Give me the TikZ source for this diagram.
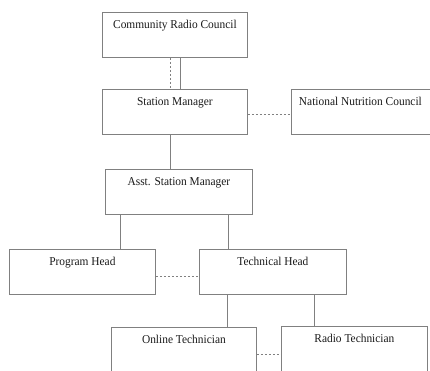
\documentclass[tikz,border=0pt]{standalone}
\usepackage{fontspec}
\setmainfont[FakeStretch=0.95]{Liberation Serif}
\usepackage{tikz}
\usetikzlibrary{positioning}

\tikzset{
  unit/.style={draw=black!50, line width=0.8pt, text=black!90, anchor=north west, inner xsep=0pt, inner ysep=7.5pt, text height=9pt, text depth=21pt, font=\fontsize{12}{14}\selectfont},
  link/.style={draw=black!50, line width=0.8pt},
  tie/.style={link, dash pattern=on 2.5pt off 1.5pt}
}

\begin{document}
\begin{tikzpicture}[x=1pt,y=-1pt]
\useasboundingbox (0,0) rectangle (430,370);
\clip (0,0) rectangle (430,370);
\node [unit, minimum width=145pt] (crc) at (102,12) {Community Radio Council};
\node [unit, minimum width=145pt] (sm) at (102,89) {Station Manager};
\node [unit, minimum width=150pt] (nnc) at (291,89) {\hspace{-12pt}National Nutrition Council};
\node [unit, minimum width=147pt] (asm) at (105,169) {Asst. Station Manager};
\node [unit, minimum width=146pt] (ph) at (9,249) {Program Head};
\node [unit, minimum width=147pt] (th) at (199,249) {Technical Head};
\node [unit, minimum width=145pt] (ot) at (111,327) {Online Technician};
\node [unit, minimum width=146pt] (rt) at (281,326) {Radio Technician};
\draw [tie] ([xshift=-4.5pt]crc.south) -- ([xshift=-4.5pt]crc.south |- sm.north);
\draw [link] ([xshift=5.5pt]crc.south) -- ([xshift=5.5pt]crc.south |- sm.north);
\draw [tie] ([yshift=-2.5pt]sm.east) -- ([yshift=-2.5pt]sm.east -| nnc.west);
\draw [link] ([xshift=-4.5pt]sm.south) -- ([xshift=-4.5pt]sm.south |- asm.north);
\draw [link] ([xshift=-58.5pt]asm.south) -- ([xshift=-58.5pt]asm.south |- ph.north);
\draw [link] ([xshift=49.5pt]asm.south) -- ([xshift=49.5pt]asm.south |- th.north);
\draw [tie] ([yshift=-4.5pt]ph.east) -- ([yshift=-4.5pt]ph.east -| th.west);
\draw [link] ([xshift=-45.5pt]th.south) -- ([xshift=-45.5pt]th.south |- ot.north);
\draw [link] ([xshift=41.5pt]th.south) -- ([xshift=41.5pt]th.south |- rt.north);
\draw [tie] ([yshift=-4.5pt]ot.east) -- ([yshift=-4.5pt]ot.east -| rt.west);
\end{tikzpicture}
\end{document}
